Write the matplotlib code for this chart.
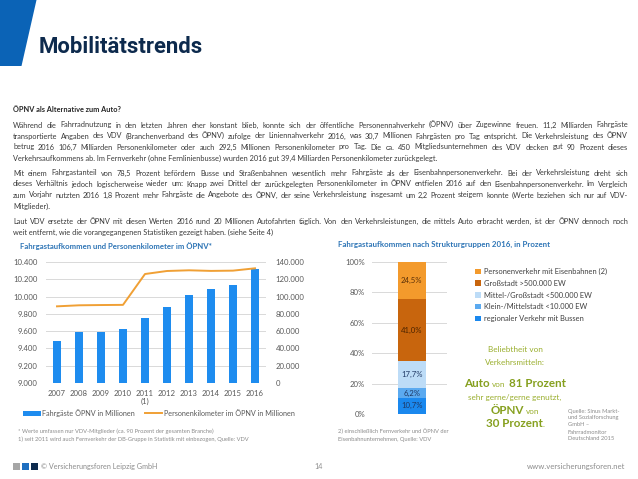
import numpy as np
import matplotlib
matplotlib.use('Agg')
import matplotlib.pyplot as plt
from matplotlib.patches import Polygon, Rectangle, Patch
from matplotlib.lines import Line2D
from matplotlib.ticker import FuncFormatter
from matplotlib import font_manager

# ---------------- data ----------------
years = ['2007', '2008', '2009', '2010', '2011\n(1)', '2012', '2013', '2014', '2015', '2016']
passengers = [9485, 9587, 9594, 9625, 9756, 9879, 10022, 10084, 10134, 10319]       # Mio Fahrgäste
pkm = [88700, 89900, 90200, 90400, 126100, 129600, 130400, 129700, 130000, 132700]  # Mio Pkm

seg_labels = ['regionaler Verkehr mit Bussen', 'Klein-/Mittelstadt <10.000 EW',
              'Mittel-/Großstadt <500.000 EW', 'Großstadt >500.000 EW',
              'Personenverkehr mit Eisenbahnen (2)']
seg_values = [10.7, 6.2, 17.7, 41.0, 24.5]

left_ticks = [9000, 9200, 9400, 9600, 9800, 10000, 10200, 10400]
right_ticks = [0, 20000, 40000, 60000, 80000, 100000, 120000, 140000]
pct_ticks = [0, 20, 40, 60, 80, 100]

heading = 'ÖPNV als Alternative zum Auto?'
paragraphs = [
    ['Während die Fahrradnutzung in den letzten Jahren eher konstant blieb, konnte sich der öffentliche Personennahverkehr (ÖPNV) über Zugewinne freuen. 11,2 Milliarden Fahrgäste',
     'transportierte Angaben des VDV (Branchenverband des ÖPNV) zufolge der Liniennahverkehr 2016, was 30,7 Millionen Fahrgästen pro Tag entspricht. Die Verkehrsleistung des ÖPNV',
     'betrug 2016 106,7 Milliarden Personenkilometer oder auch 292,5 Millionen Personenkilometer pro Tag. Die ca. 450 Mitgliedsunternehmen des VDV decken gut 90 Prozent dieses',
     'Verkehrsaufkommens ab. Im Fernverkehr (ohne Fernlinienbusse) wurden 2016 gut 39,4 Milliarden Personenkilometer zurückgelegt.'],
    ['Mit einem Fahrgastanteil von 78,5 Prozent befördern Busse und Straßenbahnen wesentlich mehr Fahrgäste als der Eisenbahnpersonenverkehr. Bei der Verkehrsleistung dreht sich',
     'dieses Verhältnis jedoch logischerweise wieder um: Knapp zwei Drittel der zurückgelegten Personenkilometer im ÖPNV entfielen 2016 auf den Eisenbahnpersonenverkehr. Im Vergleich',
     'zum Vorjahr nutzten 2016 1,8 Prozent mehr Fahrgäste die Angebote des ÖPNV, der seine Verkehrsleistung insgesamt um 2,2 Prozent steigern konnte (Werte beziehen sich nur auf VDV-',
     'Mitglieder).'],
    ['Laut VDV ersetzte der ÖPNV mit diesen Werten 2016 rund 20 Millionen Autofahrten täglich. Von den Verkehrsleistungen, die mittels Auto erbracht werden, ist der ÖPNV dennoch noch',
     'weit entfernt, wie die vorangegangenen Statistiken gezeigt haben. (siehe Seite 4)'],
]

# ---------------- style ----------------
W, H = 638, 479
FONT = 'Lato'
names = {f.name for f in font_manager.fontManager.ttflist}
TITLE_FONT = 'Liberation Sans Narrow' if 'Liberation Sans Narrow' in names else 'Roboto'

BLUE = '#1E8CEF'
ORANGE = '#F0A035'
GRID = '#D9D9D9'
TICKC = '#595959'
seg_colors = ['#1A88EE', '#5BAAF0', '#BDDCF7', '#C8650D', '#F39A2C']
seg_text = ['#1F3864', '#1F3864', '#1F3864', '#4A2300', '#5A3008']
GREEN = '#9AAF2E'
GREEN_B = '#86A01F'
BODY = '#3A3A3A'

fig = plt.figure(figsize=(W / 100, H / 100), dpi=100)
fig.patch.set_facecolor('white')
renderer = fig.canvas.get_renderer()


def fx(x):
    return x / W


def fy(y):
    return 1 - y / H


def twidth(s, **kw):
    t = fig.text(0, 0, s, **kw)
    w = t.get_window_extent(renderer).width
    t.remove()
    return w


def fit_size(s, target, base=6, **kw):
    w = twidth(s, fontsize=base, **kw)
    return base * target / w


# ---------------- header ----------------
fig.patches.append(Polygon([(fx(0), fy(0)), (fx(36.5), fy(0)), (fx(21.5), fy(66)), (fx(0), fy(66))],
                           closed=True, transform=fig.transFigure, facecolor='#0B63B6', edgecolor='none'))
ts = fit_size('Mobilitätstrends', 164, base=18, family=TITLE_FONT, fontweight='bold')
fig.text(fx(39), fy(53), 'Mobilitätstrends', family=TITLE_FONT, fontweight='bold',
         fontsize=ts, color='#0D2A4D', ha='left', va='baseline')

# ---------------- body text (justified) ----------------
X0, X1 = 13, 628
just_lines = [l for p in paragraphs for l in p[:-1]]
maxw = max(twidth(l, fontsize=6, family=FONT) for l in just_lines)
bsize = 6 * (X1 - X0) * 0.99 / maxw

fig.text(fx(X0), fy(112.5), heading, family=FONT, fontweight='bold', fontsize=bsize,
         color='#262626', ha='left', va='baseline')

line_sp, par_sp = 11, 15
y = 112.5
for p in paragraphs:
    y += par_sp
    for i, line in enumerate(p):
        if i > 0:
            y += line_sp
        if i == len(p) - 1:
            fig.text(fx(X0), fy(y), line, family=FONT, fontsize=bsize, color=BODY,
                     ha='left', va='baseline')
        else:
            words = line.split(' ')
            ws = [twidth(w_, fontsize=bsize, family=FONT) for w_ in words]
            gap = (X1 - X0 - sum(ws)) / (len(words) - 1)
            xx = X0
            for w_, wd in zip(words, ws):
                fig.text(fx(xx), fy(y), w_, family=FONT, fontsize=bsize, color=BODY,
                         ha='left', va='baseline')
                xx += wd + gap

# ---------------- left chart ----------------
t1 = 'Fahrgastaufkommen und Personenkilometer im ÖPNV*'
s1 = fit_size(t1, 193, family=FONT, fontweight='bold')
fig.text(fx(20), fy(246), t1, family=FONT, fontweight='bold', fontsize=s1, color='#2E75B6',
         ha='left', va='center')

ax = fig.add_axes([fx(46), fy(383), (266 - 46) / W, (383 - 262) / H])
x = np.arange(len(years))
bars = ax.bar(x, passengers, width=0.33, color=BLUE, zorder=2)
ax.set_xlim(-0.5, len(years) - 0.5)
ax.set_ylim(left_ticks[0], left_ticks[-1])
ax.set_yticks(left_ticks)
ax.set_xticks(x)
ax.set_xticklabels(years)
fmt = FuncFormatter(lambda v, p: f'{int(round(v)):,}'.replace(',', '.'))
ax.yaxis.set_major_formatter(fmt)
ax.grid(axis='y', color=GRID, lw=0.7, zorder=0)
ax.set_axisbelow(True)
for s in ax.spines.values():
    s.set_visible(False)
ax.tick_params(axis='both', length=0, labelsize=5.6, labelcolor=TICKC)
ax.tick_params(axis='y', pad=6)
ax.tick_params(axis='x', pad=5)
for lab in ax.get_xticklabels():
    lab.set_family(FONT)
for lab in ax.get_yticklabels():
    lab.set_family(FONT)

ax2 = ax.twinx()
line, = ax2.plot(x, pkm, color=ORANGE, lw=1.4, zorder=3)
ax2.set_ylim(right_ticks[0], right_ticks[-1])
ax2.set_yticks(right_ticks)
ax2.yaxis.set_major_formatter(fmt)
for s in ax2.spines.values():
    s.set_visible(False)
ax2.tick_params(axis='y', length=0, labelsize=5.6, labelcolor=TICKC, pad=7)
for lab in ax2.get_yticklabels():
    lab.set_family(FONT)

leg_labels = ['Fahrgäste ÖPNV in Millionen', 'Personenkilometer im ÖPNV in Millionen']
lsz = fit_size(leg_labels[0], 94, family=FONT)
leg = fig.legend([Patch(facecolor=BLUE), Line2D([], [], color=ORANGE, lw=1.4)], leg_labels,
                 loc='center left', bbox_to_anchor=(fx(23), fy(413)), ncol=2, frameon=False,
                 prop={'family': FONT, 'size': lsz}, handlelength=2.4, handleheight=0.8,
                 columnspacing=1.3, handletextpad=0.25, borderpad=0, borderaxespad=0)
for t in leg.get_texts():
    t.set_color(TICKC)

fn1 = '* Werte umfassen nur VDV-Mitglieder (ca. 90 Prozent der gesamten Branche)'
fn2 = '1) seit 2011 wird auch Fernverkehr der DB-Gruppe in Statistik mit einbezogen, Quelle: VDV'
fsz = fit_size(fn2, 232, family=FONT)
fig.text(fx(18), fy(431), fn1, family=FONT, fontsize=fsz, color='#8C8C8C', ha='left', va='center')
fig.text(fx(18), fy(439), fn2, family=FONT, fontsize=fsz, color='#8C8C8C', ha='left', va='center')

# ---------------- right chart ----------------
t2 = 'Fahrgastaufkommen nach Strukturgruppen 2016, in Prozent'
s2 = fit_size(t2, 212, family=FONT, fontweight='bold')
fig.text(fx(338), fy(244), t2, family=FONT, fontweight='bold', fontsize=s2, color='#2E75B6',
         ha='left', va='center')

bx = fig.add_axes([fx(372), fy(414), (447 - 372) / W, (414 - 262) / H])
bottoms = np.concatenate([[0], np.cumsum(seg_values)[:-1]])
handles = []
for v, b, c, tc, lab in zip(seg_values, bottoms, seg_colors, seg_text, seg_labels):
    h = bx.bar(0, v, bottom=b, width=0.37, color=c, zorder=2, label=lab)
    handles.append(h)
    bx.text(0, b + v / 2, f'{v:.1f}%'.replace('.', ','), ha='center', va='center',
            fontsize=5.6, color=tc, family=FONT, zorder=3)
bx.set_xlim(-0.53, 0.47)
bx.set_ylim(0, 100)
bx.set_yticks(pct_ticks)
bx.set_yticklabels([f'{t}%' for t in pct_ticks])
bx.set_xticks([])
bx.grid(axis='y', color=GRID, lw=0.7, zorder=0)
bx.set_axisbelow(True)
for s in bx.spines.values():
    s.set_visible(False)
bx.tick_params(axis='y', length=0, labelsize=5.6, labelcolor=TICKC, pad=5)
for lab in bx.get_yticklabels():
    lab.set_family(FONT)

rsz = fit_size(seg_labels[-1], 125, family=FONT)
leg2 = fig.legend(handles[::-1], seg_labels[::-1], loc='upper left',
                  bbox_to_anchor=(fx(475), fy(268)), frameon=False,
                  prop={'family': FONT, 'size': rsz}, handlelength=0.75, handleheight=0.75,
                  handletextpad=0.4, labelspacing=0.62, borderpad=0, borderaxespad=0)
for t in leg2.get_texts():
    t.set_color('#404040')

fn3 = '2) einschließlich Fernverkehr und ÖPNV der'
fn4 = 'Eisenbahnunternehmen, Quelle: VDV'
fig.text(fx(338), fy(431), fn3, family=FONT, fontsize=fsz, color='#8C8C8C', ha='left', va='center')
fig.text(fx(338), fy(439), fn4, family=FONT, fontsize=fsz, color='#8C8C8C', ha='left', va='center')


# green callout
def centered_runs(xc, yb, runs):
    ws = [twidth(t, fontsize=s, fontweight=w, family=FONT) for t, s, w, c, sp in runs]
    gaps = [(0.26 * s * 100 / 72 if sp else 0) for t, s, w, c, sp in runs[1:]]
    total = sum(ws) + sum(gaps)
    xx = xc - total / 2
    for i, (t, s, w, c, sp) in enumerate(runs):
        fig.text(fx(xx), fy(yb), t, fontsize=s, fontweight=w, color=c, family=FONT,
                 ha='left', va='baseline')
        xx += ws[i] + (gaps[i] if i < len(gaps) else 0)


XC = 515
SM, BG = 5.9, 8.4
centered_runs(XC, 352, [('Beliebtheit von', SM, 'normal', GREEN, True)])
centered_runs(XC, 365, [('Verkehrsmitteln:', SM, 'normal', GREEN, True)])
centered_runs(XC, 387, [('Auto', BG, 'bold', GREEN_B, True), ('von', SM, 'normal', GREEN, True),
                        ('81 Prozent', BG, 'bold', GREEN_B, True)])
centered_runs(XC, 400, [('sehr gerne/gerne genutzt,', SM, 'normal', GREEN, True)])
centered_runs(XC, 414, [('ÖPNV', BG, 'bold', GREEN_B, True), ('von', SM, 'normal', GREEN, True)])
centered_runs(XC, 427, [('30 Prozent', BG, 'bold', GREEN_B, True), ('.', SM, 'normal', GREEN, False)])

src = ['Quelle: Sinus Markt-', 'und Sozialforschung', 'GmbH –', 'Fahrradmonitor', 'Deutschland 2015']
for i, s in enumerate(src):
    fig.text(fx(568), fy(411 + i * 7), s, family=FONT, fontsize=fsz, color='#8C8C8C',
             ha='left', va='center')

# ---------------- footer ----------------
for x0, c in [(13, '#A6A6A6'), (22, '#1F6FC0'), (31, '#0D2B4E')]:
    fig.patches.append(Rectangle((fx(x0), fy(470)), 7 / W, 7 / H, transform=fig.transFigure,
                                 facecolor=c, edgecolor='none'))
fig.text(fx(41), fy(466.5), '© Versicherungsforen Leipzig GmbH', family=FONT, fontsize=5.2,
         color='#8C8C8C', ha='left', va='center')
fig.text(fx(314), fy(466.5), '14', family=FONT, fontsize=5.2, color='#8C8C8C', ha='left', va='center')
fig.text(fx(625), fy(466.5), 'www.versicherungsforen.net', family=FONT, fontsize=5.6,
         color='#8C8C8C', ha='right', va='center')

fig.savefig('out.png', dpi=100)
